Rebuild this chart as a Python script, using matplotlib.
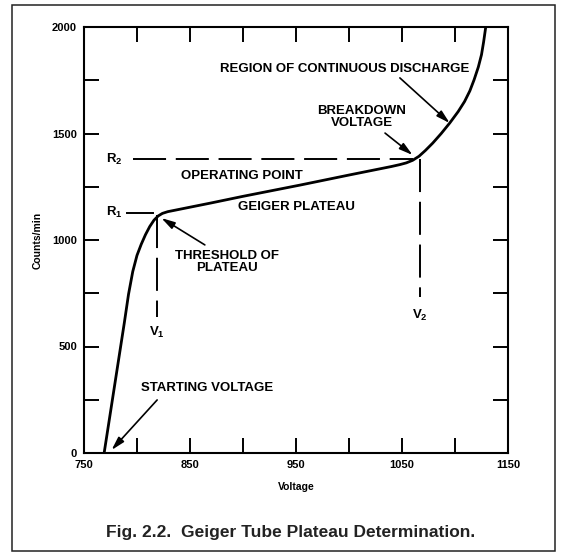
#!/usr/bin/env python

import matplotlib
matplotlib.use('Agg')
import numpy as np
from matplotlib import pyplot as plt
from matplotlib.patches import Rectangle

# Geiger curve (voltage, counts/min)
volts = [769, 788, 792, 796, 800, 804, 808, 812, 816, 820, 824, 829, 836,
         870, 900, 954, 1000, 1040, 1048, 1054, 1060, 1066, 1072, 1079,
         1087, 1095, 1103, 1109, 1114, 1118, 1122, 1125, 1127, 1129]
counts = [0, 610, 745, 852, 928, 980, 1025, 1063, 1093, 1113, 1125, 1133,
          1140, 1174, 1205, 1258, 1305, 1345, 1354, 1362, 1374, 1393, 1420,
          1455, 1500, 1549, 1603, 1650, 1700, 1752, 1812, 1870, 1930, 2000]

r1, r2 = 1127, 1380
v1, v2 = 819, 1067

xticks = [750, 850, 950, 1050, 1150]
yticks = [0, 500, 1000, 1500, 2000]

plt.rcParams['font.family'] = ['Liberation Sans', 'DejaVu Sans']
plt.rcParams['font.weight'] = 'bold'
plt.rcParams['mathtext.fontset'] = 'custom'
plt.rcParams['mathtext.bf'] = 'Liberation Sans:bold'
plt.rcParams['mathtext.rm'] = 'Liberation Sans:bold'

fig = plt.figure(figsize=(5.64, 5.53), dpi=100)
ax = fig.add_axes([84 / 564, 1 - 453 / 553, 424 / 564, 426 / 553])

# outer frame
fig.patches.append(Rectangle((12 / 564, 1 - 551 / 553), 543 / 564, 546 / 553,
                             transform=fig.transFigure, fill=False,
                             edgecolor='#222222', linewidth=1.1))

ax.plot(volts, counts, color='black', linewidth=2.0, solid_capstyle='round',
        solid_joinstyle='round')

dash = dict(color='black', linewidth=1.4, dashes=(17, 5))
ax.plot([796, 1060], [r2, r2], **dash)
ax.plot([790.5, 815], [r1, r1], color='black', linewidth=1.4)
ax.plot([v1, v1], [r1 - 10, 638], **dash)
ax.plot([v2, v2], [r2, 732], **dash)

lab = dict(fontsize=9.5, fontweight='bold', ha='center', va='center')
ax.text(779, r2, r'$\mathbf{R_2}$', **lab)
ax.text(779, r1, r'$\mathbf{R_1}$', **lab)
ax.text(v1, 568, r'$\mathbf{V_1}$', **lab)
ax.text(v2, 648, r'$\mathbf{V_2}$', **lab)
ax.text(899, 1300, 'OPERATING POINT', **lab)
ax.text(950, 1155, 'GEIGER PLATEAU', **lab)
ax.text(885, 897, 'THRESHOLD OF\nPLATEAU', linespacing=1.05, **lab)
ax.text(866, 305, 'STARTING VOLTAGE', **lab)
ax.text(1012, 1577, 'BREAKDOWN\nVOLTAGE', linespacing=1.05, **lab)
ax.text(996, 1803, 'REGION OF CONTINUOUS DISCHARGE', **lab)

arrow = dict(arrowstyle='-|>,head_length=0.8,head_width=0.22', color='black',
             linewidth=1.2, shrinkA=0, shrinkB=0)
ax.annotate('', xy=(823, 1103), xytext=(864, 977), arrowprops=arrow)
ax.annotate('', xy=(776, 14), xytext=(819, 249), arrowprops=arrow)
ax.annotate('', xy=(1060, 1399), xytext=(1034, 1502), arrowprops=arrow)
ax.annotate('', xy=(1095, 1549), xytext=(1048, 1761), arrowprops=arrow)

ax.set_xlim(750, 1150)
ax.set_ylim(0, 2000)
ax.set_xticks(xticks)
ax.set_yticks(yticks)
ax.set_xticks(np.arange(800, 1150, 100), minor=True)
ax.set_yticks(np.arange(250, 2000, 500), minor=True)
ax.tick_params(which='both', direction='in', length=11, width=1.4,
               top=True, right=True, labelsize=8, pad=5)
for lbl in ax.get_xticklabels() + ax.get_yticklabels():
    lbl.set_fontweight('bold')
for s in ax.spines.values():
    s.set_linewidth(1.5)

ax.set_xlabel('Voltage', fontsize=7.5, fontweight='bold', labelpad=9)
ax.set_ylabel('Counts/min', fontsize=7.5, fontweight='bold', labelpad=7)

fig.text(291 / 564, 1 - 533 / 553, 'Fig. 2.2.  Geiger Tube Plateau Determination.',
         fontsize=12.5, fontweight='bold', color='#222222',
         ha='center', va='center')

fig.savefig('out.png', dpi=100)
plt.close(fig)
